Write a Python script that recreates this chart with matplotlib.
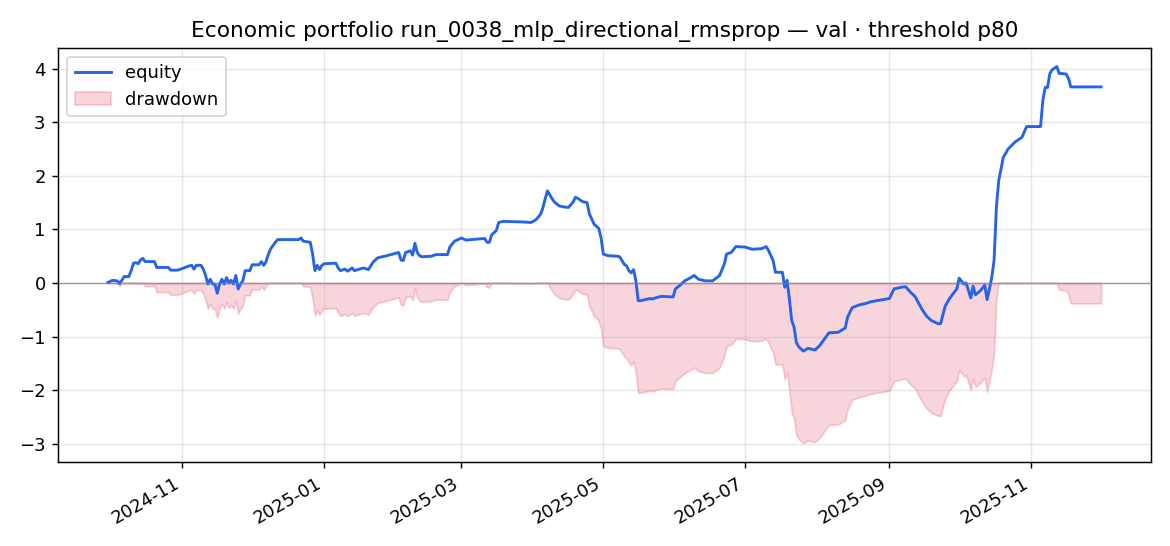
import pandas as pd
import matplotlib
matplotlib.use('Agg')
import matplotlib.pyplot as plt
import numpy as np

title = 'Economic portfolio run_0038_mlp_directional_rmsprop — val · threshold p80'

dates = [
    '2024-09-30', '2024-10-02', '2024-10-04', '2024-10-05', '2024-10-06', '2024-10-07',
    '2024-10-09', '2024-10-10', '2024-10-11', '2024-10-12', '2024-10-13', '2024-10-14',
    '2024-10-15', '2024-10-16', '2024-10-20', '2024-10-21', '2024-10-26', '2024-10-27',
    '2024-10-30', '2024-11-01', '2024-11-04', '2024-11-05', '2024-11-06', '2024-11-07',
    '2024-11-09', '2024-11-10', '2024-11-11', '2024-11-12', '2024-11-13', '2024-11-14',
    '2024-11-15', '2024-11-16', '2024-11-17', '2024-11-18', '2024-11-19', '2024-11-20',
    '2024-11-21', '2024-11-22', '2024-11-23', '2024-11-24', '2024-11-25', '2024-11-26',
    '2024-11-27', '2024-11-28', '2024-11-30', '2024-12-01', '2024-12-04', '2024-12-05',
    '2024-12-06', '2024-12-07', '2024-12-08', '2024-12-09', '2024-12-10', '2024-12-11',
    '2024-12-12', '2024-12-21', '2024-12-22', '2024-12-23', '2024-12-26', '2024-12-27',
    '2024-12-28', '2024-12-29', '2024-12-30', '2024-12-31', '2025-01-01', '2025-01-06',
    '2025-01-07', '2025-01-08', '2025-01-10', '2025-01-11', '2025-01-13', '2025-01-14',
    '2025-01-17', '2025-01-18', '2025-01-20', '2025-01-22', '2025-01-24', '2025-01-28',
    '2025-02-02', '2025-02-03', '2025-02-04', '2025-02-05', '2025-02-07', '2025-02-08',
    '2025-02-09', '2025-02-10', '2025-02-11', '2025-02-12', '2025-02-16', '2025-02-18',
    '2025-02-23', '2025-02-24', '2025-02-26', '2025-03-01', '2025-03-03', '2025-03-05',
    '2025-03-11', '2025-03-12', '2025-03-13', '2025-03-14', '2025-03-16', '2025-03-17',
    '2025-03-19', '2025-03-27', '2025-03-31', '2025-04-02', '2025-04-04', '2025-04-05',
    '2025-04-06', '2025-04-07', '2025-04-09', '2025-04-10', '2025-04-12', '2025-04-14',
    '2025-04-16', '2025-04-18', '2025-04-19', '2025-04-20', '2025-04-22', '2025-04-24',
    '2025-04-25', '2025-04-27', '2025-04-29', '2025-04-30', '2025-05-01', '2025-05-03',
    '2025-05-07', '2025-05-08', '2025-05-10', '2025-05-11', '2025-05-12', '2025-05-13',
    '2025-05-14', '2025-05-15', '2025-05-16', '2025-05-17', '2025-05-21', '2025-05-22',
    '2025-05-24', '2025-05-26', '2025-05-31', '2025-06-01', '2025-06-03', '2025-06-05',
    '2025-06-08', '2025-06-09', '2025-06-11', '2025-06-14', '2025-06-17', '2025-06-20',
    '2025-06-22', '2025-06-23', '2025-06-25', '2025-06-27', '2025-07-01', '2025-07-04',
    '2025-07-08', '2025-07-10', '2025-07-11', '2025-07-13', '2025-07-14', '2025-07-17',
    '2025-07-18', '2025-07-19', '2025-07-20', '2025-07-21', '2025-07-22', '2025-07-23',
    '2025-07-24', '2025-07-26', '2025-07-28', '2025-07-31', '2025-08-02', '2025-08-04',
    '2025-08-06', '2025-08-10', '2025-08-13', '2025-08-14', '2025-08-16', '2025-08-19',
    '2025-08-22', '2025-08-24', '2025-08-28', '2025-09-01', '2025-09-03', '2025-09-06',
    '2025-09-08', '2025-09-10', '2025-09-12', '2025-09-15', '2025-09-17', '2025-09-19',
    '2025-09-22', '2025-09-23', '2025-09-25', '2025-09-27', '2025-09-30', '2025-10-01',
    '2025-10-03', '2025-10-04', '2025-10-06', '2025-10-07', '2025-10-08', '2025-10-10',
    '2025-10-12', '2025-10-13', '2025-10-14', '2025-10-15', '2025-10-16', '2025-10-17',
    '2025-10-18', '2025-10-20', '2025-10-21', '2025-10-22', '2025-10-25', '2025-10-26',
    '2025-10-28', '2025-10-30', '2025-11-05', '2025-11-06', '2025-11-07', '2025-11-08',
    '2025-11-09', '2025-11-10', '2025-11-12', '2025-11-13', '2025-11-14', '2025-11-16',
    '2025-11-17', '2025-11-18', '2025-12-01',
]

equity = [
    0.01, 0.05, 0.04, -0.01, 0.05, 0.12,
    0.12, 0.23, 0.37, 0.38, 0.36, 0.43,
    0.46, 0.40, 0.40, 0.29, 0.29, 0.24,
    0.24, 0.27, 0.32, 0.33, 0.26, 0.33,
    0.33, 0.26, 0.14, -0.02, 0.07, -0.02,
    -0.02, -0.19, -0.02, 0.07, -0.02, 0.10,
    0.00, 0.05, -0.02, 0.14, -0.11, -0.02,
    0.04, 0.23, 0.23, 0.34, 0.34, 0.40,
    0.33, 0.40, 0.54, 0.64, 0.70, 0.76,
    0.81, 0.81, 0.84, 0.78, 0.76, 0.54,
    0.23, 0.33, 0.25, 0.33, 0.36, 0.37,
    0.28, 0.23, 0.26, 0.22, 0.28, 0.23,
    0.27, 0.28, 0.25, 0.39, 0.47, 0.51,
    0.57, 0.43, 0.42, 0.57, 0.60, 0.52,
    0.74, 0.57, 0.51, 0.49, 0.50, 0.53,
    0.53, 0.67, 0.78, 0.84, 0.80, 0.81,
    0.83, 0.76, 0.76, 0.90, 0.98, 1.13,
    1.15, 1.14, 1.13, 1.18, 1.28, 1.40,
    1.57, 1.72, 1.57, 1.51, 1.44, 1.42,
    1.41, 1.51, 1.60, 1.58, 1.52, 1.50,
    1.29, 1.10, 1.02, 0.85, 0.54, 0.51,
    0.50, 0.49, 0.35, 0.32, 0.23, 0.19,
    0.25, 0.04, -0.33, -0.33, -0.29, -0.30,
    -0.27, -0.25, -0.26, -0.11, -0.04, 0.04,
    0.11, 0.14, 0.07, 0.04, 0.04, 0.14,
    0.35, 0.54, 0.57, 0.68, 0.67, 0.63,
    0.64, 0.68, 0.61, 0.42, 0.20, 0.20,
    -0.08, 0.05, -0.30, -0.70, -0.82, -1.11,
    -1.19, -1.27, -1.22, -1.25, -1.17, -1.05,
    -0.93, -0.92, -0.84, -0.64, -0.46, -0.41,
    -0.38, -0.35, -0.32, -0.29, -0.11, -0.08,
    -0.07, -0.17, -0.25, -0.49, -0.62, -0.70,
    -0.76, -0.76, -0.43, -0.28, -0.11, 0.09,
    -0.02, 0.00, -0.28, -0.06, -0.22, -0.15,
    -0.04, -0.31, -0.11, 0.10, 0.42, 1.41,
    1.91, 2.35, 2.42, 2.50, 2.63, 2.66,
    2.72, 2.92, 2.92, 3.42, 3.65, 3.65,
    3.91, 3.98, 4.04, 3.91, 3.91, 3.90,
    3.82, 3.66, 3.66,
]

df = pd.DataFrame({'equity': equity}, index=pd.to_datetime(dates))
df['drawdown'] = df['equity'] - df['equity'].cummax()

fig, ax = plt.subplots(figsize=(9, 4.2), dpi=130)
ax.plot(df.index, df['equity'], color='#2563eb', lw=1.6, label='equity')
ax.fill_between(df.index, df['drawdown'], 0, color='crimson', alpha=0.18, label='drawdown')
ax.axhline(0, color='gray', lw=0.8, alpha=0.7)

ax.set_title(title)
ax.grid(alpha=0.3)
ax.legend(loc='upper left')
fig.autofmt_xdate()
fig.subplots_adjust(left=0.0498, right=0.9835, top=0.9126, bottom=0.1538)

fig.savefig('out.png', dpi=130)
